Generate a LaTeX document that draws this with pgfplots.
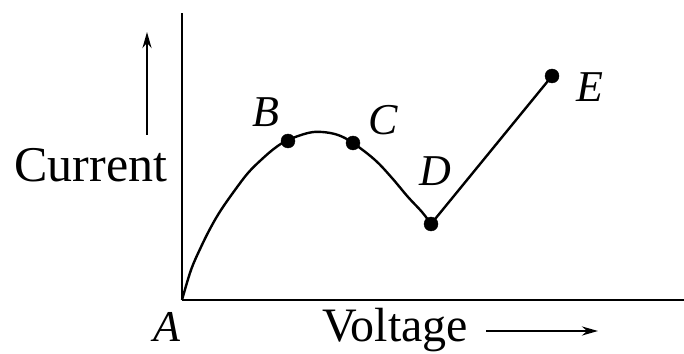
\documentclass[border=0pt]{standalone}
\usepackage{pgfplots}
\pgfplotsset{compat=1.18}
\usepackage{fontspec}
\setmainfont{Liberation Serif}
\usetikzlibrary{arrows.meta}

\begin{document}
\begin{tikzpicture}
  \begin{axis}[
      scale only axis,
      width=502pt, height=287pt,
      xmin=0, xmax=502, ymin=0, ymax=287,
      axis lines=left,
      axis line style={-, line width=2.8pt},
      xtick=\empty, ytick=\empty,
      clip=false,
    ]
    % curve A -> D (pixel offsets)
    \addplot[black, line width=2.4pt, smooth, tension=0.6] coordinates {
      (0,0) (9,30) (19,53) (29,73) (39,90) (53,110) (66,127) (79,140) (93,152) (106,160)
      (126,167) (140,168) (156,165) (171,157)
      (193,140) (210,122) (226,103) (240,88) (249,76)};
    % straight part D -> E
    \addplot[black, line width=2.4pt] coordinates {(249,76) (370,224)};
    % points B, C, D, E
    \addplot[only marks, mark=*, mark size=7pt, black] coordinates {
      (106,159) (171,157) (249,76) (370,224)};

    \node[font=\fontsize{44}{50}\selectfont\itshape] at (axis cs:84,188) {B};
    \node[font=\fontsize{44}{50}\selectfont\itshape] at (axis cs:201,180) {C};
    \node[font=\fontsize{44}{50}\selectfont\itshape] at (axis cs:253,129) {D};
    \node[font=\fontsize{44}{50}\selectfont\itshape] at (axis cs:408,213) {E};
    \node[font=\fontsize{44}{50}\selectfont\itshape, anchor=base, inner sep=0pt] at (axis cs:-15,-41) {A};

    \node[font=\fontsize{50}{56}\selectfont] at (axis cs:-91,135) {Current};
    \draw[line width=2.4pt, -{Stealth[length=16pt, width=9pt]}] (axis cs:-35,165) -- (axis cs:-35,268);

    \node[font=\fontsize{48}{54}\selectfont, anchor=base west, inner sep=0pt] at (axis cs:140,-41) {Voltage};
    \draw[line width=2.4pt, -{Stealth[length=16pt, width=9pt]}] (axis cs:304,-31) -- (axis cs:416,-31);

    \coordinate (bl) at (axis cs:-182,-53);
    \coordinate (tr) at (axis cs:502,300);
  \end{axis}
  \pgfresetboundingbox
  \path[use as bounding box] (bl) rectangle (tr);
\end{tikzpicture}
\end{document}
